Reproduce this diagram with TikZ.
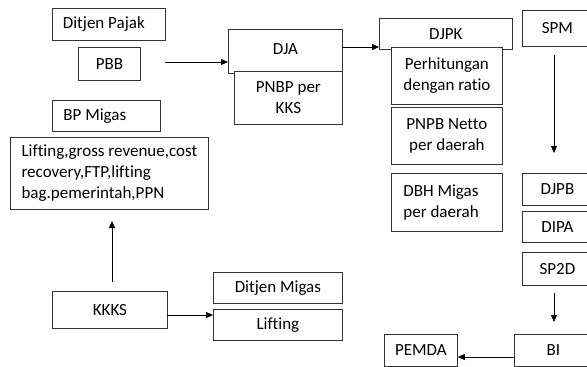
\documentclass[tikz,border=0pt]{standalone}
\usepackage{fontspec}
\setmainfont{Carlito}[Ligatures=NoCommon]
\usetikzlibrary{arrows.meta}

\tikzset{
  box/.style={draw=black!80, fill=white, line width=0.8pt, anchor=north west,
    inner sep=0pt, align=center, font=\fontsize{17}{21}\selectfont},
  lbox/.style={box, align=left},
  flow/.style={-{Triangle[length=7pt,width=6pt]}, line width=0.9pt}
}

\begin{document}
\begin{tikzpicture}[x=1pt, y=-1pt]
\useasboundingbox (0,0) rectangle (587,367);
\clip (0,0) rectangle (587,367);

% left column
\node[box, minimum width=113, minimum height=32] (pajak) at (52,8) {\makebox[92pt][l]{Ditjen Pajak}};
\node[box, minimum width=62, minimum height=33] (pbb) at (78,47) {PBB};
\node[box, minimum width=108, minimum height=31] (bpmigas) at (52,100) {\makebox[86pt][l]{BP Migas}};
\node[lbox, minimum width=198, minimum height=72] (info) at (10,137)
  {Lifting,gross revenue,cost\\recovery,FTP,lifting\\bag.pemerintah,PPN};
\node[box, minimum width=115, minimum height=37] (kkks) at (52,291) {KKKS};

% middle
\node[box, minimum width=129, minimum height=31] (dmigas) at (213,272) {Ditjen Migas};
\node[box, minimum width=129, minimum height=31] (lift) at (213,309) {Lifting};
\node[box, minimum width=114, minimum height=44] (dja) at (228,29) {\raisebox{4pt}{DJA}};
\node[box, minimum width=108, minimum height=53] (pnbp) at (234,71) {PNBP per\\KKS};

% DJPK column
\node[box, minimum width=133, minimum height=31] (djpk) at (379,18) {DJPK};
\node[box, minimum width=111, minimum height=57] (hitung) at (391,47) {Perhitungan\\dengan ratio};
\node[box, minimum width=111, minimum height=57] (netto) at (391,107) {PNPB Netto\\per daerah};
\node[lbox, minimum width=111, minimum height=58] (dbh) at (391,173)
  {\makebox[87pt][l]{DBH Migas}\\\makebox[87pt][l]{per daerah}};

% right column
\node[box, minimum width=70, minimum height=36] (spm) at (522,10) {SPM};
\node[box, minimum width=70, minimum height=32] (djpb) at (522,173) {DJPB};
\node[box, minimum width=70, minimum height=31] (dipa) at (522,211) {DIPA};
\node[box, minimum width=70, minimum height=33] (sp2d) at (522,252) {SP2D};
\node[box, minimum width=78, minimum height=32] (bi) at (514,334) {BI};
\node[box, minimum width=73, minimum height=32] (pemda) at (384,334) {PEMDA};

% arrow ends
\coordinate (pbbout) at (165,62);
\coordinate (djaout) at (342,47);
\coordinate (spmout) at (554,55);
\coordinate (djpbin) at (554,153);
\coordinate (sp2dout) at (554,293);
\coordinate (biin) at (554,322);
\coordinate (biout) at (514,357);
\coordinate (kkksup) at (112,282);
\coordinate (infoin) at (112,221);
\coordinate (kkksout) at (167,315);

% arrows
\draw[flow] (pbbout) -- (pbbout -| dja.west);
\draw[flow] (djaout) -- (djaout -| djpk.west);
\draw[flow] (spmout) -- (djpbin);
\draw[flow] (sp2dout) -- (biin);
\draw[flow] (biout) -- (biout -| pemda.east);
\draw[flow] (kkksup) -- (infoin);
\draw[flow] (kkksout) -- (kkksout -| lift.west);
\end{tikzpicture}
\end{document}
